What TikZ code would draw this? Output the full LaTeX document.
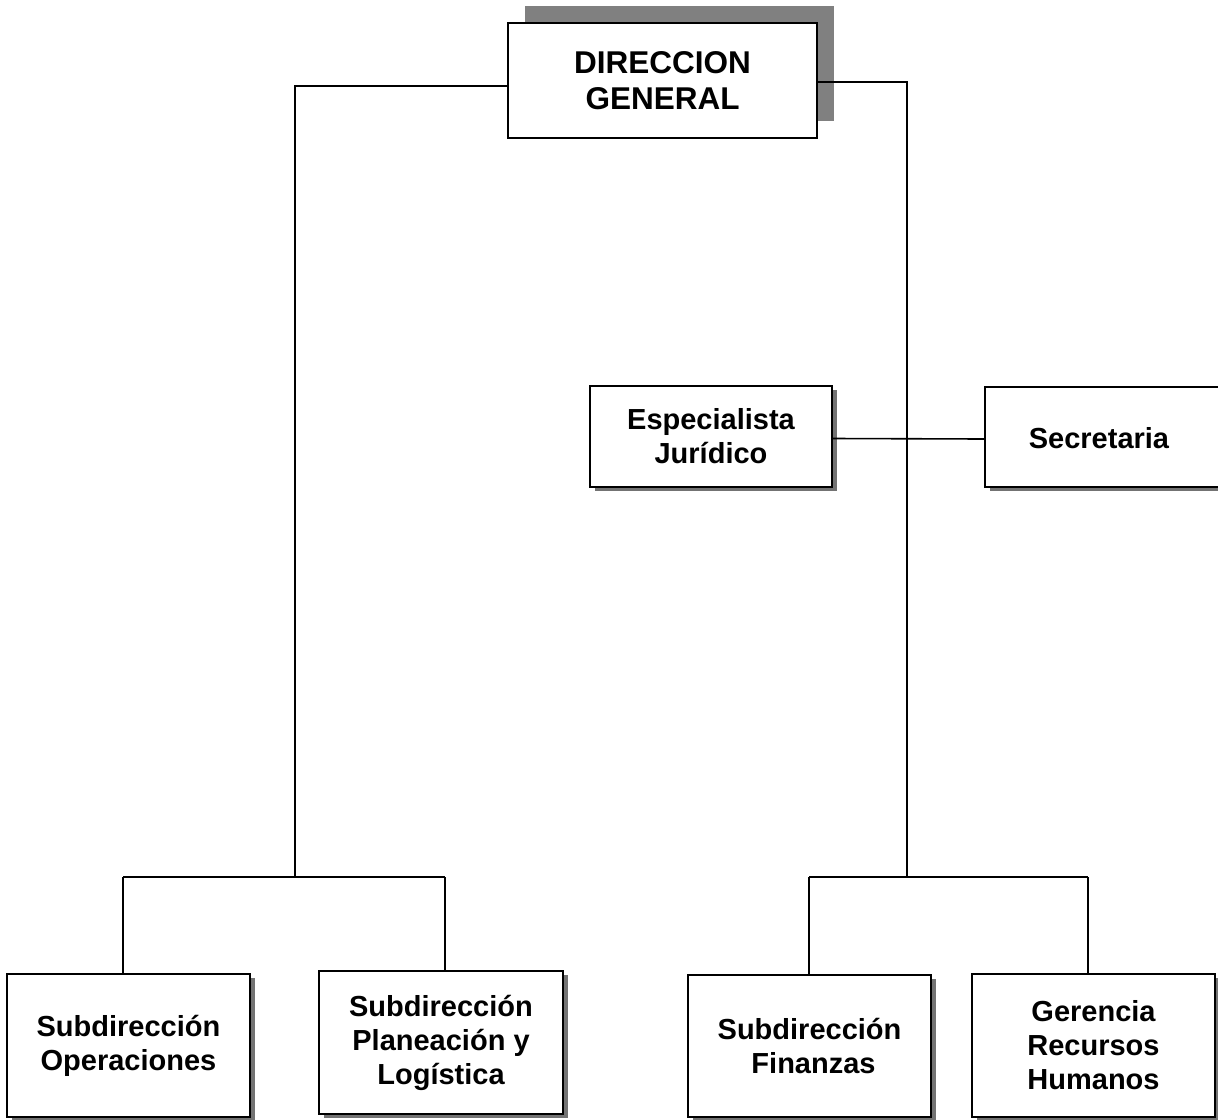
\documentclass[tikz,border=0pt]{standalone}
\usepackage{fontspec}
\setmainfont{Liberation Sans}
\usetikzlibrary{shadows}

\tikzset{
  unitbox/.style={draw=black, line width=1.6pt, fill=white, inner sep=0pt, outer sep=0pt,
    align=center, font=\bfseries\fontsize{29}{34}\selectfont,
    drop shadow={shadow xshift=5pt, shadow yshift=-4pt, fill=black!55, opacity=1}},
  headbox/.style={draw=black, line width=1.6pt, fill=white, inner sep=0pt, outer sep=0pt,
    align=center, font=\bfseries\fontsize{31.5}{36}\selectfont,
    drop shadow={shadow xshift=17pt, shadow yshift=17pt, fill=black!50, opacity=1}},
  link/.style={line width=1.6pt, draw=black}
}

\begin{document}
\begin{tikzpicture}[x=1pt,y=-1pt]
\useasboundingbox (0,0) rectangle (1218,1119);

% top of the chart
\node[headbox, minimum width=309pt, minimum height=115pt] (dg) at (662.5,80.5) {DIRECCION\\GENERAL};

% staff units
\node[unitbox, minimum width=242pt, minimum height=101pt] (esp) at (711,436.5) {Especialista\\Jurídico};
\node[unitbox, minimum width=250pt, minimum height=100pt] (sec) at (1110,437) {};
\node[font=\bfseries\fontsize{29}{34}\selectfont] (secT) at (1099,438) {Secretaria};

% line units
\node[unitbox, minimum width=243pt, minimum height=143pt] (op)  at (128.5,1045.5) {Subdirección\\Operaciones};
\node[unitbox, minimum width=244pt, minimum height=143pt] (pl)  at (441,1042.5) {Subdirección\\Planeación y\\Logística};
\node[unitbox, minimum width=243pt, minimum height=142pt] (fin) at (809.5,1046) {Subdirección\\\ Finanzas};
\node[unitbox, minimum width=243pt, minimum height=143pt] (ger) at (1093.5,1045.5) {Gerencia\\Recursos\\Humanos};

% junction points of the two branches
\coordinate (jL)  at (295,877);
\coordinate (jR)  at (907,877);
\coordinate (dOp) at (123,877);
\coordinate (dPl) at (445,877);
\coordinate (dFi) at (809,877);
\coordinate (dGe) at (1088,877);

% connectors
\draw[link] ([yshift=-5.5pt]dg.west) -| (jL);
\draw[link] ([yshift=-1.5pt]dg.east) -| (jR);
\draw[link] ([yshift=-2pt]esp.east) -- ([yshift=-2pt]sec.west);

\draw[link] (dOp) -- (dPl);
\draw[link] (dOp) -- (dOp |- op.north);
\draw[link] (dPl) -- (dPl |- pl.north);

\draw[link] (dFi) -- (dGe);
\draw[link] (dFi) -- (dFi |- fin.north);
\draw[link] (dGe) -- (dGe |- ger.north);
\end{tikzpicture}
\end{document}
